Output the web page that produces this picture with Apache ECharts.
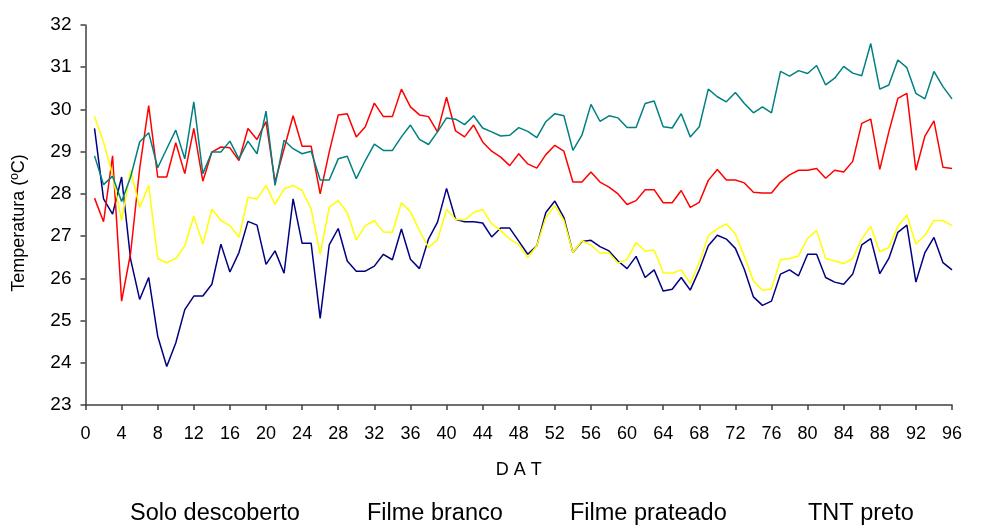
<!DOCTYPE html>
<html>
<head>
<meta charset="utf-8">
<script src="https://cdn.jsdelivr.net/npm/echarts@6/dist/echarts.min.js"></script>
<style>
  html, body { margin: 0; padding: 0; background: #ffffff; }
  #chart { width: 988px; height: 531px; }
</style>
</head>
<body>
<div id="chart"></div>
<script>
// Days after transplanting (DAT)
const days = [
  1, 2, 3, 4, 5, 6, 7, 8, 9, 10, 11, 12, 13, 14, 15, 16,
  17, 18, 19, 20, 21, 22, 23, 24, 25, 26, 27, 28, 29, 30, 31, 32,
  33, 34, 35, 36, 37, 38, 39, 40, 41, 42, 43, 44, 45, 46, 47, 48,
  49, 50, 51, 52, 53, 54, 55, 56, 57, 58, 59, 60, 61, 62, 63, 64,
  65, 66, 67, 68, 69, 70, 71, 72, 73, 74, 75, 76, 77, 78, 79, 80,
  81, 82, 83, 84, 85, 86, 87, 88, 89, 90, 91, 92, 93, 94, 95, 96
];

// Soil temperature (ºC) per treatment
const soloDescoberto = [
  29.55, 27.88, 27.52, 28.40, 26.45, 25.50, 26.02, 24.63, 23.91, 24.47, 25.26, 25.58, 25.58, 25.86, 26.81, 26.15,
  26.61, 27.35, 27.26, 26.33, 26.65, 26.12, 27.88, 26.83, 26.83, 25.05, 26.79, 27.18, 26.41, 26.17, 26.17, 26.29,
  26.57, 26.44, 27.17, 26.45, 26.23, 26.93, 27.33, 28.13, 27.40, 27.34, 27.34, 27.31, 26.98, 27.19, 27.19, 26.88,
  26.57, 26.77, 27.56, 27.83, 27.44, 26.61, 26.87, 26.90, 26.75, 26.65, 26.41, 26.23, 26.52, 26.02, 26.20, 25.70,
  25.74, 26.02, 25.72, 26.20, 26.77, 27.02, 26.93, 26.71, 26.21, 25.56, 25.36, 25.46, 26.10, 26.20, 26.06, 26.57,
  26.57, 26.02, 25.91, 25.86, 26.10, 26.79, 26.94, 26.11, 26.47, 27.09, 27.26, 25.91, 26.61, 26.97, 26.37, 26.20
];
const filmeBranco = [
  27.90, 27.34, 28.90, 25.46, 26.60, 28.60, 30.09, 28.40, 28.40, 29.21, 28.48, 29.55, 28.30, 28.99, 29.11, 29.09,
  28.79, 29.55, 29.29, 29.71, 28.28, 29.07, 29.85, 29.13, 29.13, 28.00, 28.99, 29.87, 29.90, 29.35, 29.59, 30.15,
  29.83, 29.83, 30.48, 30.06, 29.87, 29.83, 29.47, 30.29, 29.49, 29.35, 29.63, 29.23, 29.01, 28.87, 28.67, 28.95,
  28.71, 28.61, 28.93, 29.15, 29.01, 28.28, 28.28, 28.52, 28.28, 28.16, 28.00, 27.75, 27.84, 28.10, 28.10, 27.79,
  27.79, 28.08, 27.68, 27.80, 28.32, 28.58, 28.33, 28.33, 28.26, 28.04, 28.02, 28.02, 28.28, 28.45, 28.56, 28.56,
  28.60, 28.37, 28.56, 28.52, 28.77, 29.67, 29.77, 28.58, 29.47, 30.26, 30.38, 28.56, 29.37, 29.73, 28.63, 28.60
];
const filmePrateado = [
  29.83, 29.23, 28.44, 27.37, 28.56, 27.68, 28.20, 26.47, 26.37, 26.47, 26.77, 27.47, 26.81, 27.64, 27.37, 27.25,
  26.97, 27.92, 27.88, 28.20, 27.75, 28.12, 28.20, 28.08, 27.64, 26.57, 27.68, 27.84, 27.56, 26.91, 27.25, 27.37,
  27.10, 27.09, 27.79, 27.58, 27.13, 26.73, 26.91, 27.63, 27.40, 27.38, 27.56, 27.63, 27.29, 27.13, 26.93, 26.80,
  26.49, 26.77, 27.44, 27.72, 27.37, 26.61, 26.89, 26.79, 26.60, 26.60, 26.36, 26.45, 26.85, 26.65, 26.67, 26.13,
  26.12, 26.20, 25.88, 26.37, 27.01, 27.17, 27.29, 27.05, 26.52, 25.94, 25.72, 25.75, 26.44, 26.47, 26.53, 26.95,
  27.13, 26.47, 26.41, 26.35, 26.47, 26.93, 27.23, 26.63, 26.73, 27.23, 27.50, 26.81, 27.02, 27.37, 27.37, 27.25
];
const tntPreto = [
  28.90, 28.22, 28.42, 27.82, 28.40, 29.23, 29.45, 28.62, 29.07, 29.51, 28.83, 30.18, 28.48, 28.99, 28.99, 29.25,
  28.83, 29.25, 28.95, 29.96, 28.20, 29.27, 29.07, 28.95, 29.01, 28.33, 28.33, 28.83, 28.89, 28.36, 28.79, 29.18,
  29.03, 29.03, 29.35, 29.63, 29.29, 29.17, 29.47, 29.80, 29.77, 29.64, 29.85, 29.56, 29.47, 29.37, 29.39, 29.57,
  29.48, 29.33, 29.71, 29.90, 29.85, 29.03, 29.39, 30.12, 29.72, 29.85, 29.80, 29.57, 29.57, 30.14, 30.20, 29.59,
  29.56, 29.90, 29.35, 29.59, 30.48, 30.30, 30.18, 30.40, 30.14, 29.92, 30.06, 29.92, 30.90, 30.79, 30.92, 30.85,
  31.04, 30.58, 30.74, 31.02, 30.86, 30.80, 31.56, 30.48, 30.58, 31.17, 30.99, 30.38, 30.25, 30.90, 30.54, 30.25
];

const seriesNames = ['Solo descoberto', 'Filme branco', 'Filme prateado', 'TNT preto'];
const seriesValues = [soloDescoberto, filmeBranco, filmePrateado, tntPreto];
const seriesColors = ['#000080', '#ff0000', '#ffff00', '#008080'];
// left edge of each text-only legend entry
const legendLeft = [125, 362, 565, 803];

const chart = echarts.init(document.getElementById('chart'), null, { renderer: 'canvas' });

const font = 'Liberation Sans, Arial, sans-serif';
const axisColor = '#404040';

chart.setOption({
  animation: false,
  backgroundColor: '#ffffff',
  grid: { left: 85.5, right: 36, top: 25, bottom: 126, containLabel: false },
  legend: seriesNames.map((name, i) => ({
    data: [name],
    bottom: 5,
    left: legendLeft[i],
    padding: 0,
    itemWidth: 0,
    itemHeight: 0,
    icon: 'rect',
    textStyle: { color: '#000000', fontSize: 23.5, fontFamily: font }
  })),
  xAxis: {
    type: 'value',
    min: 0,
    max: 96,
    interval: 4,
    name: 'D A T',
    nameLocation: 'middle',
    nameGap: 56,
    nameTextStyle: { color: '#000000', fontSize: 18, fontFamily: font },
    axisLine: { lineStyle: { color: axisColor, width: 1.5 } },
    axisTick: { show: true, length: 5, inside: false, lineStyle: { color: axisColor, width: 1.5 } },
    axisLabel: { color: '#000000', fontSize: 18, fontFamily: font, margin: 20 },
    splitLine: { show: false }
  },
  yAxis: {
    type: 'value',
    min: 23,
    max: 32,
    interval: 1,
    name: 'Temperatura (ºC)',
    nameLocation: 'middle',
    nameRotate: 90,
    nameGap: 57,
    nameTextStyle: { color: '#000000', fontSize: 18, fontFamily: font, padding: [0, 16, 0, 0] },
    axisLine: { show: true, lineStyle: { color: axisColor, width: 1.5 } },
    axisTick: { show: true, length: 5, inside: false, lineStyle: { color: axisColor, width: 1.5 } },
    axisLabel: { color: '#000000', fontSize: 19, fontFamily: font, margin: 14 },
    splitLine: { show: false }
  },
  series: seriesNames.map((name, i) => ({
    name: name,
    type: 'line',
    data: days.map((d, j) => [d, seriesValues[i][j]]),
    showSymbol: false,
    symbol: 'none',
    lineStyle: { color: seriesColors[i], width: 1.5 },
    itemStyle: { color: seriesColors[i] },
    z: 2
  }))
});
</script>
</body>
</html>
